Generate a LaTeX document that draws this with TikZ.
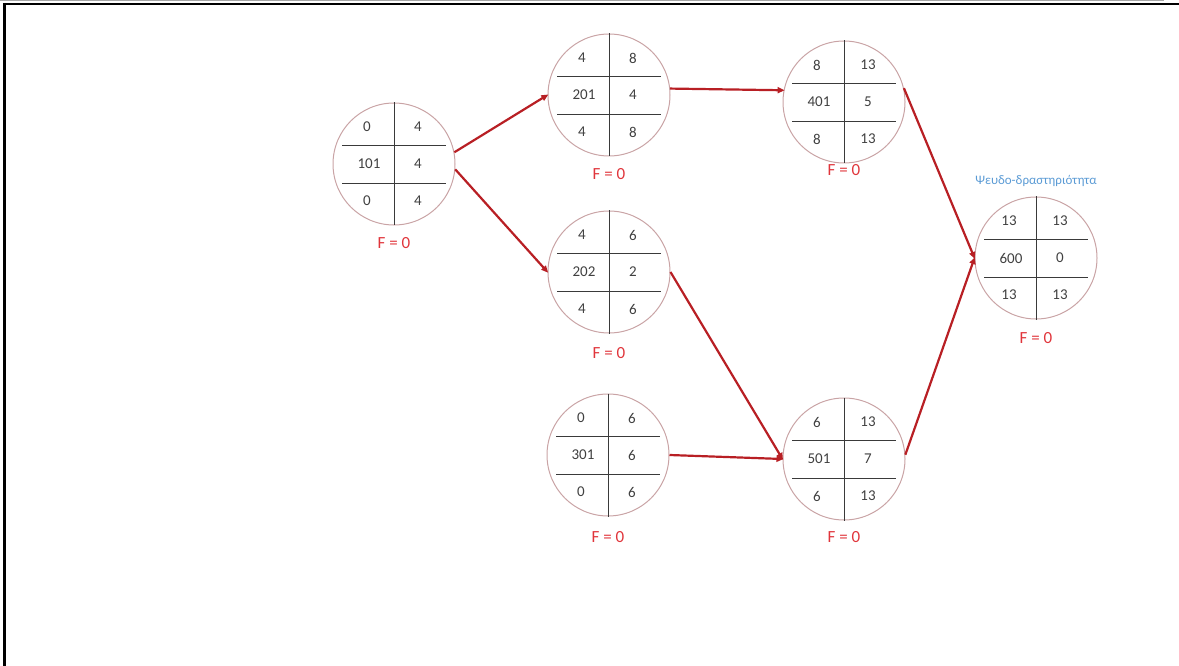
\documentclass[tikz,border=0pt]{standalone}
\usepackage{fontspec}
\setmainfont{Carlito}
\usetikzlibrary{arrows.meta}
\definecolor{ringc}{HTML}{C9A3A5}
\definecolor{gridc}{HTML}{3A3A3A}
\definecolor{numc}{HTML}{404040}
\definecolor{arrc}{HTML}{B81F24}
\definecolor{fc}{HTML}{E0353B}
\definecolor{pseudoc}{HTML}{5B9BD5}
\tikzset{
  ring/.style={circle, draw=ringc, line width=1pt, minimum size=122pt, inner sep=0pt},
  grid/.style={draw=gridc, line width=0.9pt},
  num/.style={text=numc, font=\fontsize{15}{15}\selectfont, inner sep=0pt},
  flabel/.style={text=fc, font=\fontsize{17}{17}\selectfont, inner sep=0pt},
  link/.style={draw=arrc, line width=2.2pt, -{Triangle[length=7pt,width=6pt]}, shorten >=-1pt},
}
\newcommand{\actbox}[9]{%
  \node[ring] (#1) at (#2,#3) {};
  \draw[grid] ([xshift=-52pt,yshift=19pt]#1.center) -- ([xshift=52pt,yshift=19pt]#1.center);
  \draw[grid] ([xshift=-52pt,yshift=-19pt]#1.center) -- ([xshift=52pt,yshift=-19pt]#1.center);
  \draw[grid] (#1.north) -- (#1.south);
  \node[num] (#1-tl) at ([xshift=-27pt,yshift=37pt]#1.center) {#4};
  \node[num] (#1-tr) at ([xshift=24pt,yshift=37pt]#1.center) {#5};
  \node[num] (#1-id) at ([xshift=-25pt]#1.center) {#6};
  \node[num] (#1-mr) at ([xshift=24pt]#1.center) {#7};
  \node[num] (#1-bl) at ([xshift=-27pt,yshift=-37pt]#1.center) {#8};
  \node[num] (#1-br) at ([xshift=24pt,yshift=-37pt]#1.center) {#9};
}
\begin{document}
\begin{tikzpicture}[x=1pt,y=-1pt]
\useasboundingbox (0,0) rectangle (1179,666);
% frame
\draw[gray!70, line width=1pt] (0,0.5) -- (1164,0.5);
\draw[black, line width=2pt] (3,4) -- (1179,4);
\draw[black, line width=2.5pt] (4.5,3) -- (4.5,666);
% activities
\actbox{a101}{394}{164}{0}{4}{101}{4}{0}{4}
\actbox{a201}{609}{95}{4}{8}{201}{4}{4}{8}
\actbox{a401}{844}{102}{8}{13}{401}{5}{8}{13}
\actbox{a202}{609}{272}{4}{6}{202}{2}{4}{6}
\actbox{a301}{608}{455}{0}{6}{301}{6}{0}{6}
\actbox{a501}{844}{459}{6}{13}{501}{7}{6}{13}
\actbox{a600}{1036}{258}{13}{13}{600}{0}{13}{13}
% float labels
\node[flabel] (f101) at (394,243) {F = 0};
\node[flabel] (f201) at (609,174) {F = 0};
\node[flabel] (f401) at (844,170) {F = 0};
\node[flabel] (f202) at (609,353) {F = 0};
\node[flabel] (f301) at (608,537) {F = 0};
\node[flabel] (f501) at (844,537) {F = 0};
\node[flabel] (f600) at (1036,338) {F = 0};
\node[text=pseudoc, font=\fontsize{13}{13}\selectfont, inner sep=0pt] (pseudo) at (1036,181) {Ψευδο-δραστηριότητα};
% connectors
\draw[link] (a101.11) -- (a201.west);
\draw[link] (a101.-5) -- (a202.west);
\draw[link] (a201.6) -- (a401.169);
\draw[link] (a202.east) -- (a501.west);
\draw[link] (a301.east) -- (a501.west);
\draw[link] (a401.13) -- (a600.west);
\draw[link] (a501.4) -- (a600.west);
\end{tikzpicture}
\end{document}
